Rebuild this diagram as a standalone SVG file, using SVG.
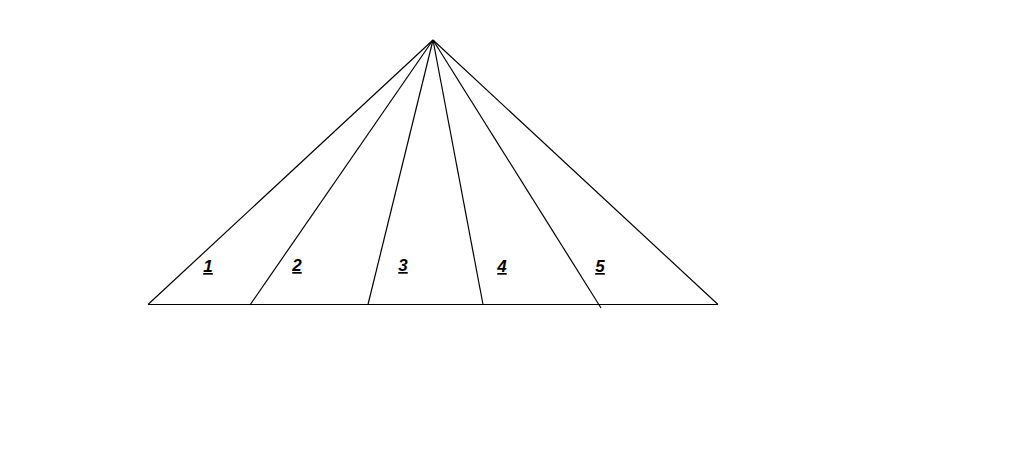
<svg xmlns="http://www.w3.org/2000/svg" width="1024" height="464" viewBox="0 0 1024 464">
<style>
.ln{stroke:#000;stroke-width:1.2;fill:none}
.lb{font-family:"Liberation Sans",Arial,sans-serif;font-size:17px;font-weight:bold;font-style:italic;text-decoration:underline;fill:#000;text-anchor:middle}
</style>
<rect width="1024" height="464" fill="#fff"/>
<g id="connectors">
<line class="ln" x1="148" y1="304.5" x2="718" y2="304.5"/>
<line class="ln" x1="433" y1="40" x2="148" y2="304.5"/>
<line class="ln" x1="433" y1="40" x2="250" y2="305"/>
<line class="ln" x1="433" y1="40" x2="368" y2="304.5"/>
<line class="ln" x1="433" y1="40" x2="483" y2="304.5"/>
<line class="ln" x1="433" y1="40" x2="601" y2="308"/>
<line class="ln" x1="433" y1="40" x2="718" y2="304.5"/>
</g>
<g id="label1"><text class="lb" x="208" y="272">1</text></g>
<g id="label2"><text class="lb" x="297" y="271">2</text></g>
<g id="label3"><text class="lb" x="403" y="271">3</text></g>
<g id="label4"><text class="lb" x="502" y="272">4</text></g>
<g id="label5"><text class="lb" x="600" y="272">5</text></g>
</svg>
